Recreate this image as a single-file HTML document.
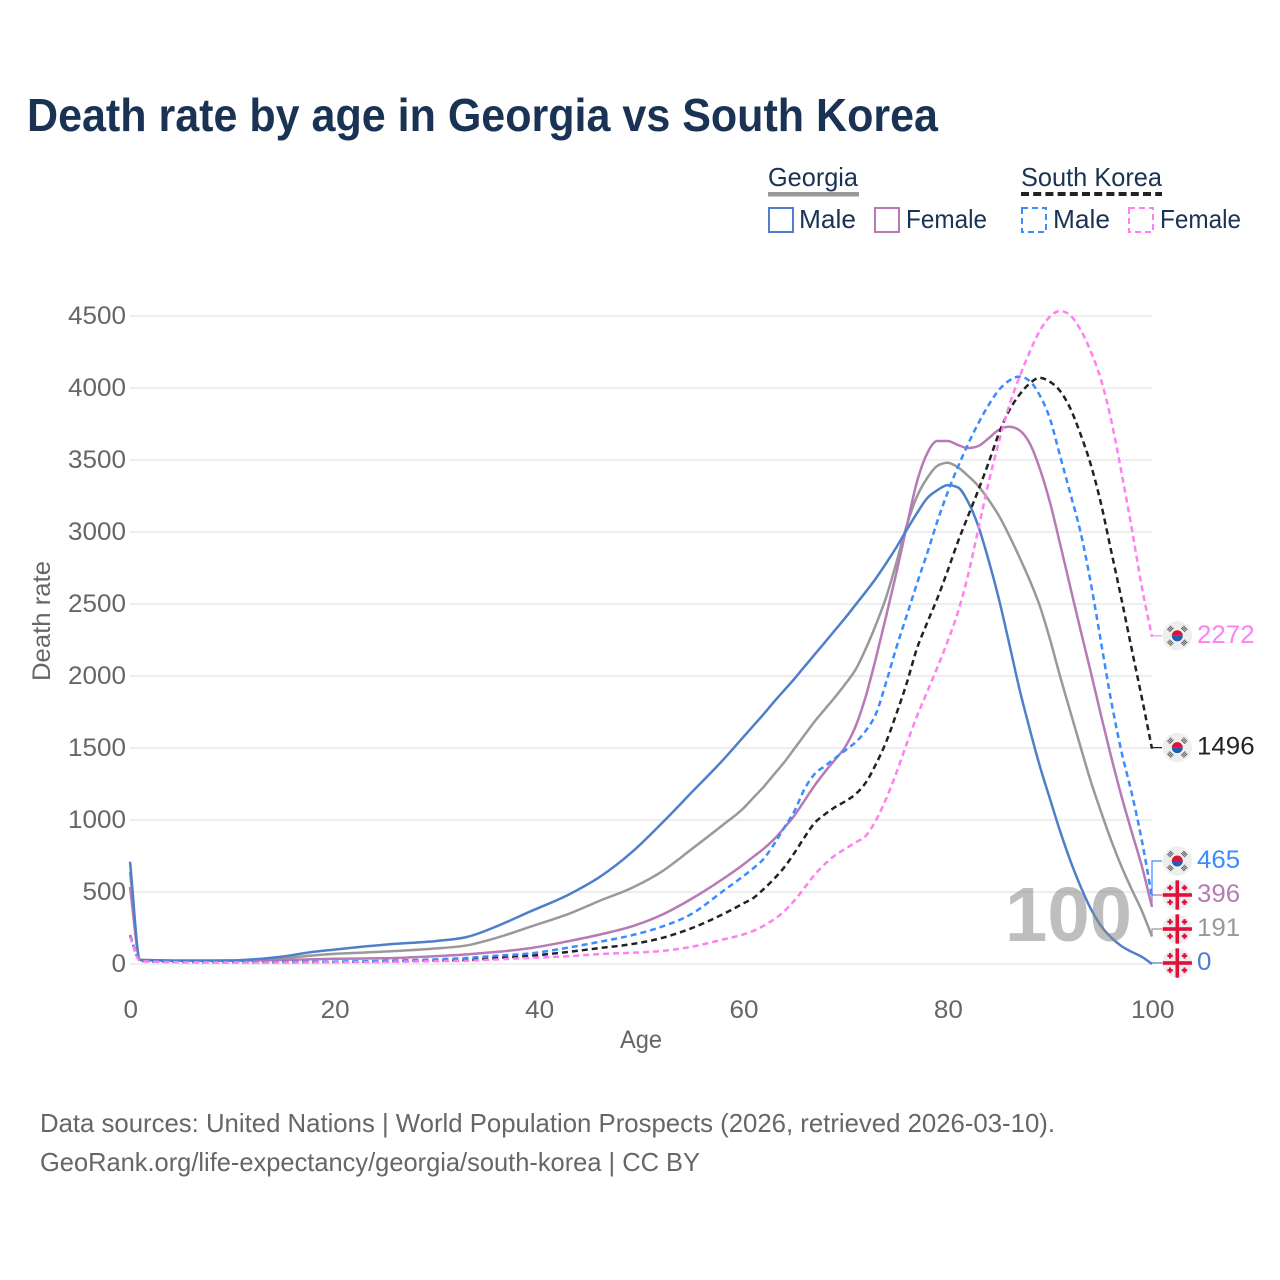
<!DOCTYPE html>
<html lang="en">
<head>
<meta charset="utf-8">
<title>Death rate by age in Georgia vs South Korea</title>
<style>
html,body{margin:0;padding:0;background:#fff;width:1280px;height:1280px;overflow:hidden}
svg{display:block}
text{font-family:"Liberation Sans",sans-serif}
</style>
</head>
<body>
<svg id="chart" xmlns="http://www.w3.org/2000/svg" width="1280" height="1280" viewBox="0 0 1280 1280">
  <rect width="1280" height="1280" fill="#fff"/>
  <text x="27" y="131" font-size="46" font-weight="700" fill="#1a3354" textLength="911" lengthAdjust="spacingAndGlyphs">Death rate by age in Georgia vs South Korea</text>

  <g font-size="26" fill="#1a3354">
    <text x="768" y="186" textLength="90" lengthAdjust="spacingAndGlyphs">Georgia</text>
    <rect x="768" y="192" width="91" height="4.5" fill="#999"/>
    <rect x="769" y="208" width="24" height="24" fill="none" stroke="#4f7fca" stroke-width="2"/>
    <text x="799" y="228" textLength="57" lengthAdjust="spacingAndGlyphs">Male</text>
    <rect x="875" y="208" width="24" height="24" fill="none" stroke="#b77ab5" stroke-width="2"/>
    <text x="906" y="228" textLength="81" lengthAdjust="spacingAndGlyphs">Female</text>
    <text x="1021" y="186" textLength="141" lengthAdjust="spacingAndGlyphs">South Korea</text>
    <line x1="1021" y1="194" x2="1162" y2="194" stroke="#222" stroke-width="4" stroke-dasharray="8 4.2"/>
    <rect x="1022" y="208" width="24" height="24" fill="none" stroke="#3a8cff" stroke-width="2" stroke-dasharray="6 4"/>
    <text x="1053" y="228" textLength="57" lengthAdjust="spacingAndGlyphs">Male</text>
    <rect x="1129" y="208" width="24" height="24" fill="none" stroke="#ff80f0" stroke-width="2" stroke-dasharray="6 4"/>
    <text x="1160" y="228" textLength="81" lengthAdjust="spacingAndGlyphs">Female</text>
  </g>

  <g id="grid"></g>
  <g id="yTickGroup"></g>
  <g id="xTickGroup"></g>
  <text transform="translate(50 621) rotate(-90)" text-anchor="middle" font-size="25" fill="#666" textLength="120" lengthAdjust="spacingAndGlyphs">Death rate</text>
  <text x="620" y="1048" font-size="25" fill="#666" textLength="42" lengthAdjust="spacingAndGlyphs">Age</text>

  <g id="lines"></g>
  <g id="ends"></g>

  <text x="1005" y="941" font-size="77" font-weight="700" fill="#888" fill-opacity="0.55" textLength="127" lengthAdjust="spacingAndGlyphs">100</text>

  <text x="40" y="1132" font-size="26" fill="#666" textLength="1015" lengthAdjust="spacingAndGlyphs">Data sources: United Nations | World Population Prospects (2026, retrieved 2026-03-10).</text>
  <text x="40" y="1171" font-size="26" fill="#666" textLength="660" lengthAdjust="spacingAndGlyphs">GeoRank.org/life-expectancy/georgia/south-korea | CC BY</text>
</svg>
<script>
const yTicks = [0, 500, 1000, 1500, 2000, 2500, 3000, 3500, 4000, 4500];
const xTicks = [0, 20, 40, 60, 80, 100];
const ages = [0,1,2,5,10,12,15,18,20,23,26,30,33,36,39,43,46,49,52,55,58,60,61,62,63,64,65,66,67,68,69,70,71,72,73,74,75,76,77,78,79,80,81,82,83,84,85,86,87,88,89,90,91,92,93,94,95,96,97,98,99,100];
const georgiaMale = [710,30,27,24,25,32,52,85,100,122,140,160,188,265,360,485,606,770,975,1195,1415,1575,1655,1735,1820,1900,1980,2065,2150,2235,2320,2405,2495,2585,2680,2785,2895,3015,3130,3235,3290,3326,3310,3210,3040,2806,2540,2235,1920,1640,1380,1150,925,720,540,385,265,185,125,85,50,0];
const georgiaTotal = [640,28,25,22,22,27,40,60,70,80,90,108,130,185,255,350,440,525,640,800,965,1080,1155,1230,1315,1400,1495,1590,1685,1770,1855,1945,2045,2190,2360,2550,2790,3045,3246,3375,3460,3481,3450,3390,3320,3225,3115,2980,2830,2670,2490,2260,2000,1755,1510,1270,1060,860,680,520,370,191];
const georgiaFemale = [535,28,25,22,22,24,28,33,36,38,42,55,67,85,108,160,205,259,340,455,590,690,745,800,865,945,1030,1135,1240,1335,1420,1510,1650,1860,2130,2420,2720,3040,3347,3546,3632,3632,3605,3583,3597,3650,3710,3731,3708,3620,3444,3210,2920,2620,2320,2030,1730,1440,1170,920,680,396];
const koreaMale = [200,24,20,15,13,13,14,15,17,19,24,32,42,58,72,115,155,198,258,350,505,610,665,730,830,945,1060,1215,1320,1375,1430,1485,1540,1620,1740,1960,2200,2420,2640,2853,3075,3275,3450,3610,3755,3880,3985,4050,4079,4050,3951,3790,3530,3270,3000,2650,2240,1830,1480,1190,860,465];
const koreaTotal = [200,22,18,14,12,12,13,14,15,17,21,26,28,42,56,85,111,137,180,250,345,420,458,520,590,670,770,880,980,1040,1090,1130,1180,1260,1390,1545,1740,1950,2190,2370,2540,2730,2930,3110,3290,3480,3680,3840,3950,4030,4071,4044,3980,3860,3680,3470,3200,2870,2540,2190,1850,1496];
const koreaFemale = [190,20,16,12,10,10,10,11,12,13,15,20,23,32,42,55,69,78,90,120,170,205,230,265,310,365,440,530,620,695,755,800,845,890,1000,1150,1330,1530,1720,1890,2060,2240,2440,2700,3020,3340,3620,3870,4070,4245,4395,4495,4535,4505,4405,4255,4060,3780,3420,3030,2620,2272];

const NS = 'http://www.w3.org/2000/svg';
const xScale = a => 130 + a * 10.22;
const yScale = v => 964 - v * 0.144;

function make(tag, attrs, parent) {
  const el = document.createElementNS(NS, tag);
  for (const k in attrs) el.setAttribute(k, attrs[k]);
  parent.appendChild(el);
  return el;
}

function sign(v) { return v < 0 ? -1 : 1; }

function monotonePath(xs, ys) {
  const n = xs.length;
  const slopes = [];
  for (let i = 0; i < n - 1; i++) slopes.push((ys[i + 1] - ys[i]) / (xs[i + 1] - xs[i]));
  const tangents = [slopes[0]];
  for (let i = 1; i < n - 1; i++) {
    const h0 = xs[i] - xs[i - 1], h1 = xs[i + 1] - xs[i];
    const s0 = slopes[i - 1], s1 = slopes[i];
    const p = (s0 * h1 + s1 * h0) / (h0 + h1);
    tangents.push((sign(s0) + sign(s1)) * Math.min(Math.abs(s0), Math.abs(s1), 0.5 * Math.abs(p)) || 0);
  }
  tangents.push(slopes[n - 2]);
  let d = 'M' + xs[0].toFixed(1) + ' ' + ys[0].toFixed(1);
  for (let i = 0; i < n - 1; i++) {
    const h = (xs[i + 1] - xs[i]) / 3;
    d += ' C' + (xs[i] + h).toFixed(1) + ' ' + (ys[i] + tangents[i] * h).toFixed(1) + ' ' +
      (xs[i + 1] - h).toFixed(1) + ' ' + (ys[i + 1] - tangents[i + 1] * h).toFixed(1) + ' ' +
      xs[i + 1].toFixed(1) + ' ' + ys[i + 1].toFixed(1);
  }
  return d;
}

const svgRoot = document.getElementById('chart');
const gridG = document.getElementById('grid');
const yG = document.getElementById('yTickGroup');
const xG = document.getElementById('xTickGroup');
const linesG = document.getElementById('lines');
const endsG = document.getElementById('ends');

yTicks.forEach(v => {
  const line = make('line', {x1: 130, x2: 1152, y1: yScale(v), y2: yScale(v), stroke: '#eeeeee', 'stroke-width': 2}, gridG);
  
  
  const t = make('text', {x: 126, y: yScale(v) + 8, 'text-anchor': 'end', 'font-size': 25, fill: '#666', textLength: String(v).length * 14.5, lengthAdjust: 'spacingAndGlyphs'}, yG);
  
  
  t.textContent = v;
});

xTicks.forEach(a => {
  const t = make('text', {x: xScale(a) + 0.8, y: 1018, 'text-anchor': 'middle', 'font-size': 25, fill: '#666', textLength: String(a).length * 14.5, lengthAdjust: 'spacingAndGlyphs'}, xG);
  
  
  t.textContent = a;
});

const seriesList = [
  {id: 'georgia-total', values: georgiaTotal, color: '#999999', dash: null, labelColor: '#999999', country: 'ge'},
  {id: 'georgia-female', values: georgiaFemale, color: '#b77ab5', dash: null, labelColor: '#b77ab5', country: 'ge'},
  {id: 'georgia-male', values: georgiaMale, color: '#4f7fca', dash: null, labelColor: '#4f7fca', country: 'ge'},
  {id: 'south-korea-total', values: koreaTotal, color: '#222222', dash: '6 4', labelColor: '#222222', country: 'kr'},
  {id: 'south-korea-male', values: koreaMale, color: '#3a8cff', dash: '6 4', labelColor: '#3a8cff', country: 'kr'},
  {id: 'south-korea-female', values: koreaFemale, color: '#ff80f0', dash: '6 4', labelColor: '#ff80f0', country: 'kr'}
];

seriesList.forEach(s => {
  const d = monotonePath(ages.map(xScale), s.values.map(yScale));
  const attrs = {d: d, fill: 'none', stroke: s.color, 'stroke-width': 2.5, 'stroke-linejoin': 'round'};
  if (s.dash) attrs['stroke-dasharray'] = s.dash;
  const p = make('path', attrs, linesG);
  
  
});

const defs = make('defs', {}, svgRoot);
const clip = make('clipPath', {id: 'flagClip'}, defs);
make('circle', {cx: 0, cy: 0, r: 14.7}, clip);

function drawKorea(g) {
  make('circle', {r: 14.7, fill: '#eeeeee'}, g);
  make('path', {d: 'M-5.5 0A5.5 5.5 0 0 1 5.5 0Z', fill: '#dd1238'}, g);
  make('path', {d: 'M-5.5 0A5.5 5.5 0 0 0 5.5 0Z', fill: '#1f5fb0'}, g);
  [45, 135, 225, 315].forEach(r => {
    const tg = make('g', {transform: 'rotate(' + r + ') translate(0 -9.8)', fill: '#333', 'fill-opacity': 0.85}, g);
    make('rect', {x: -2.8, y: -2, width: 5.6, height: 0.9}, tg);
    make('rect', {x: -2.8, y: -0.45, width: 5.6, height: 0.9}, tg);
    make('rect', {x: -2.8, y: 1.1, width: 5.6, height: 0.9}, tg);
  });
}

function drawGeorgia(g) {
  make('circle', {r: 14.7, fill: '#eeeeee'}, g);
  const c = make('g', {'clip-path': 'url(#flagClip)', fill: '#e0103a'}, g);
  make('rect', {x: -15, y: -1.8, width: 30, height: 3.6}, c);
  make('rect', {x: -1.8, y: -15, width: 3.6, height: 30}, c);
  [[-1, -1], [1, -1], [-1, 1], [1, 1]].forEach(q => {
    const px = q[0] * 7.2, py = q[1] * 7.2;
    make('rect', {x: px - 2.7, y: py - 1.1, width: 5.4, height: 2.2}, c);
    make('rect', {x: px - 1.1, y: py - 2.7, width: 2.2, height: 5.4}, c);
  });
}

const order = seriesList.slice().sort((a, b) => a.values[a.values.length - 1] - b.values[b.values.length - 1]);
let prevY = Infinity;
order.forEach(s => {
  const last = s.values[s.values.length - 1];
  const yv = yScale(last);
  const ly = Math.min(yv - 1, prevY - 34);
  prevY = ly;
  const conn = make('path', {d: 'M1152 ' + yv.toFixed(1) + ' V' + ly.toFixed(1) + ' H1162', fill: 'none', stroke: s.color, 'stroke-width': 1.2}, endsG);
  
  
  const g = make('g', {transform: 'translate(1177.3 ' + ly.toFixed(1) + ')'}, endsG);
  
  
  if (s.country === 'kr') drawKorea(g); else drawGeorgia(g);
  const t = make('text', {x: 1197, y: ly + 7, 'font-size': 25, fill: s.labelColor, textLength: String(last).length * 14.4, lengthAdjust: 'spacingAndGlyphs'}, endsG);
  
  
  t.textContent = last;
});
</script>
</body>
</html>
